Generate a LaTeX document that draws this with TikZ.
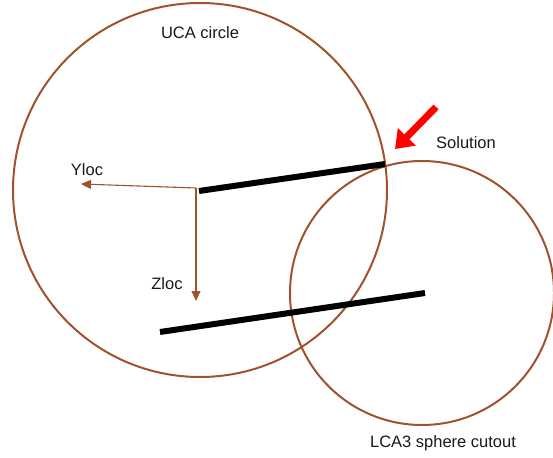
\documentclass[tikz,border=0pt]{standalone}
\usepackage{fontspec}
\setmainfont{Liberation Sans}
\usetikzlibrary{arrows.meta}
\definecolor{rust}{HTML}{A0522D}
\definecolor{redarrow}{HTML}{FF0000}
\begin{document}
\begin{tikzpicture}[x=1pt,y=-1pt,
  circ/.style={draw=rust,line width=2pt},
  bar/.style={draw=black,line width=6pt},
  axis/.style={draw=rust,line width=1.1pt,-{Triangle[width=9pt,length=10pt]}},
  lbl/.style={font=\fontsize{16.5}{19}\selectfont,text=black!90,inner sep=0pt}]
\useasboundingbox (0,0) rectangle (553,457);
% circles
\node[circ,circle,minimum size=374pt,inner sep=0pt] (uca) at (200,190) {};
\node[circ,circle,minimum size=264pt,inner sep=0pt] (lca) at (422,293) {};
% bars
\coordinate (b1s) at (199,191);
\coordinate (b1e) at (385,164);
\coordinate (b2s) at (160,332);
\coordinate (b2e) at (425,293);
\draw[bar] (b1s) -- (b1e);
\draw[bar] (b2s) -- (b2e);
% axes
\coordinate (o) at (196,188);
\coordinate (ytip) at (81,184);
\coordinate (ztip) at (196,301);
\draw[axis] (o) -- (ytip);
\draw[axis] (o) -- (ztip);
% labels
\node[lbl] (ylab) at (87,170) {Yloc};
\node[lbl] (zlab) at (167,284) {Zloc};
\node[lbl] (ucalab) at (200,33) {UCA circle};
\node[lbl] (sollab) at (466,143) {Solution};
\node[lbl] (lcalab) at (443,443) {LCA3 sphere cutout};
% red arrow
\coordinate (rtail) at (436,107);
\coordinate (rtip) at (395,149);
\draw[redarrow,line width=7pt,-{Triangle[width=24pt,length=17pt]}] (rtail) -- (rtip);
\end{tikzpicture}
\end{document}
